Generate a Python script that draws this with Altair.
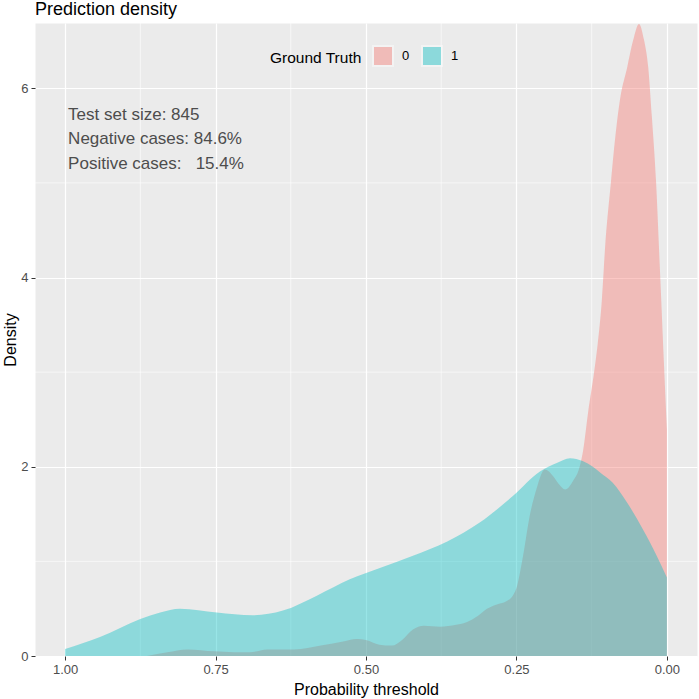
import altair as alt
import pandas as pd

# Kernel density of predicted probability, by ground-truth class
prob_0 = [0.000, 0.005, 0.009, 0.013, 0.018, 0.025, 0.031, 0.038, 0.0465, 0.056,
          0.066, 0.078, 0.085, 0.093, 0.103, 0.108, 0.115, 0.121, 0.131, 0.139,
          0.145, 0.156, 0.169, 0.180, 0.189, 0.203, 0.210, 0.216, 0.228, 0.239,
          0.249, 0.258, 0.266, 0.285, 0.299, 0.315, 0.332, 0.350, 0.377, 0.404,
          0.422, 0.440, 0.457, 0.478, 0.500, 0.515, 0.540, 0.575, 0.619, 0.664,
          0.693, 0.720, 0.752, 0.797, 0.830, 0.864]
dens_0 = [2.39, 3.10, 3.70, 4.29, 5.01, 5.70, 6.22, 6.51, 6.68, 6.51,
          6.22, 5.88, 5.53, 5.01, 4.29, 3.77, 3.30, 3.00, 2.57, 2.18,
          2.00, 1.85, 1.76, 1.82, 1.90, 1.97, 1.90, 1.78, 1.48, 1.06,
          0.74, 0.62, 0.58, 0.54, 0.50, 0.42, 0.36, 0.33, 0.31, 0.32,
          0.28, 0.17, 0.11, 0.12, 0.17, 0.18, 0.15, 0.11, 0.07, 0.07,
          0.04, 0.04, 0.05, 0.07, 0.04, 0.00]

prob_1 = [0.000, 0.017, 0.040, 0.066, 0.090, 0.111, 0.123, 0.140, 0.161, 0.183,
          0.211, 0.256, 0.311, 0.365, 0.422, 0.477, 0.527, 0.581, 0.638, 0.688,
          0.748, 0.809, 0.842, 0.875, 0.942, 1.000]
dens_1 = [0.83, 1.06, 1.34, 1.62, 1.83, 1.94, 2.00, 2.06, 2.09, 2.04,
          1.95, 1.69, 1.41, 1.21, 1.06, 0.93, 0.81, 0.64, 0.48, 0.43,
          0.46, 0.50, 0.46, 0.39, 0.20, 0.074]

x_ticks = [0, 0.25, 0.5, 0.75, 1.0]
y_ticks = [0, 2, 4, 6]
x_minor = [0.125, 0.375, 0.625, 0.875]
y_minor = [1, 3, 5]

notes = ["Test set size: 845",
         "Negative cases: 84.6%",
         "Positive cases:\u00a0\u00a0\u00a015.4%"]
note_y = [5.72, 5.46, 5.20]
note_x = [0.995, 0.995, 0.995]

curves = pd.DataFrame({
    "prob": prob_0 + prob_1,
    "density": dens_0 + dens_1,
    "truth": ["0"] * len(prob_0) + ["1"] * len(prob_1),
})
notes_df = pd.DataFrame({"prob": note_x, "density": note_y, "note": notes})

FONT = "Liberation Sans"

xscale = alt.Scale(domain=[-0.05, 1.05], reverse=True, nice=False, zero=False)
yscale = alt.Scale(domain=[0, 6.69], nice=False, zero=False)

axis_common = dict(
    grid=True, gridColor="white", gridWidth=1.2, domain=False,
    tickColor="#333333", tickSize=4, tickWidth=1,
    labelColor="#4D4D4D", labelFontSize=13, labelFont=FONT,
    titleFontSize=16, titleFontWeight="normal", titleColor="black", titleFont=FONT,
)
xaxis = alt.Axis(values=x_ticks, format=".2f", title="Probability threshold",
                 labelPadding=3, titlePadding=5, **axis_common)
yaxis = alt.Axis(values=y_ticks, format="d", title="Density",
                 labelPadding=3, titlePadding=2, **axis_common)

X = alt.X("prob:Q", scale=xscale, axis=xaxis)
Y = alt.Y("density:Q", scale=yscale, axis=yaxis, stack=None)

minor_x = alt.Chart(pd.DataFrame({"prob": x_minor})).mark_rule(
    color="white", strokeWidth=0.6
).encode(x=X)

minor_y = alt.Chart(pd.DataFrame({"density": y_minor})).mark_rule(
    color="white", strokeWidth=0.6
).encode(y=Y)

areas = alt.Chart(curves).mark_area(opacity=0.4, interpolate="monotone").encode(
    x=X,
    y=Y,
    color=alt.Color(
        "truth:N",
        scale=alt.Scale(domain=["0", "1"], range=["#F8766D", "#00BFC4"]),
        legend=alt.Legend(
            title="Ground Truth", orient="none", legendX=235, legendY=22,
            direction="horizontal", titleOrient="left",
            titleFontSize=15.5, titleFontWeight="normal", titleColor="black",
            titleFont=FONT, titlePadding=10,
            labelFontSize=13, labelColor="black", labelFont=FONT, labelOffset=8,
            symbolType="square", symbolSize=400, symbolOpacity=0.4,
            symbolStrokeColor="white", symbolStrokeWidth=2,
            columnPadding=8,
        ),
    ),
)

labels = alt.Chart(notes_df).mark_text(
    align="left", baseline="middle", fontSize=17, color="#4D4D4D", font=FONT
).encode(x=X, y=Y, text="note:N")

chart = alt.layer(minor_x, minor_y, areas, labels).properties(
    width=662,
    height=633,
    title=alt.Title("Prediction density", anchor="start", fontSize=18,
                    fontWeight="normal", color="black", font=FONT,
                    offset=4, frame="group"),
    padding={"left": 35, "top": 23, "right": 2, "bottom": 43},
    autosize=alt.AutoSizeParams(type="none"),
).configure_view(
    fill="#EBEBEB", stroke="transparent"
)

chart.save("out.html", embed_options={"renderer": "svg", "actions": False})
